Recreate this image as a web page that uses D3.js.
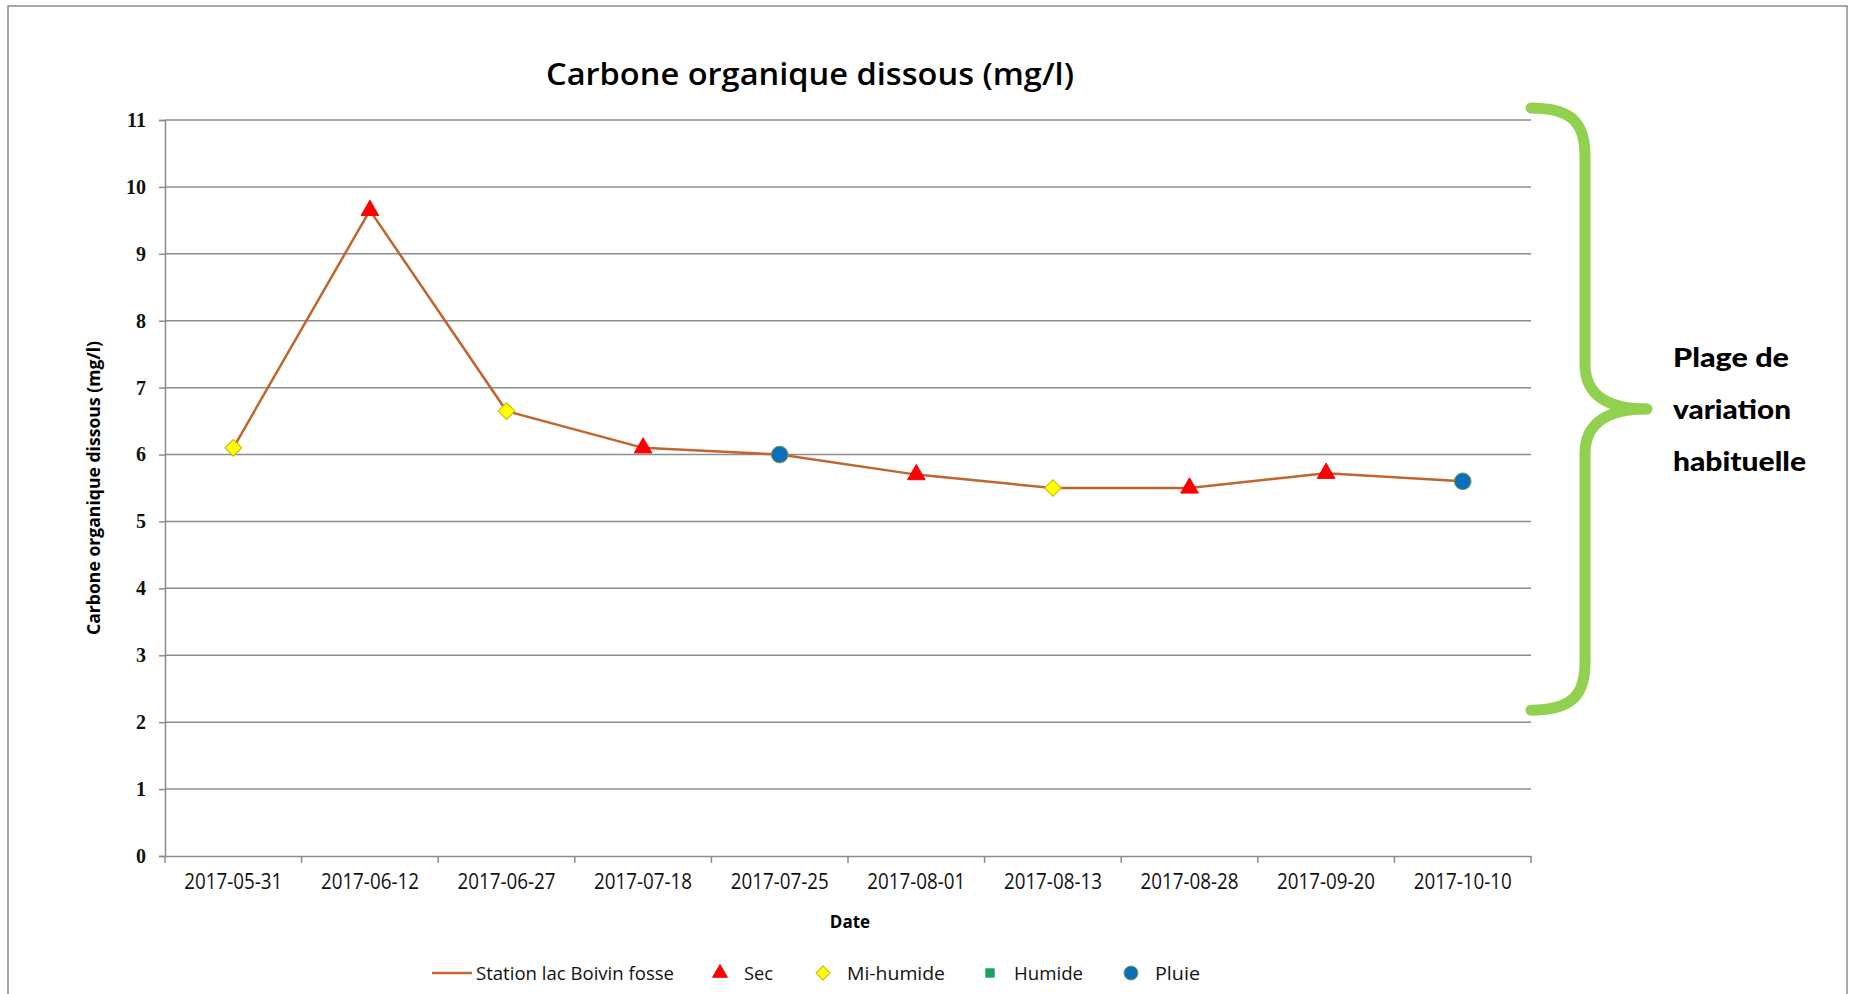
<!DOCTYPE html>
<html>
<head>
<meta charset="utf-8">
<script src="https://cdn.jsdelivr.net/npm/d3@7"></script>
<style>
  body { margin: 0; background: #fff; }
  svg { display: block; }
</style>
</head>
<body>
<div id="chart"></div>
<script>
const dates = ["2017-05-31", "2017-06-12", "2017-06-27", "2017-07-18", "2017-07-25",
  "2017-08-01", "2017-08-13", "2017-08-28", "2017-09-20", "2017-10-10"];
const values = [6.1, 9.65, 6.65, 6.1, 6.0, 5.7, 5.5, 5.5, 5.72, 5.6];
const conditions = ["Mi-humide", "Sec", "Mi-humide", "Sec", "Pluie",
  "Sec", "Mi-humide", "Sec", "Sec", "Pluie"];
const yTicks = [0, 1, 2, 3, 4, 5, 6, 7, 8, 9, 10, 11];
const legendLabels = ["Station lac Boivin fosse", "Sec", "Mi-humide", "Humide", "Pluie"];
const braceRange = [2.18, 11.18];
const braceText = ["Plage de", "variation", "habituelle"];

const W = 1851, H = 994;
const plot = { left: 165, right: 1531, top: 120, bottom: 856 };
const lineColor = "#c0652b";
const gridColor = "#8c8c8c";

const markerStyle = {
  "Sec": { type: d3.symbolTriangle, size: 135, fill: "#ff0000", stroke: "#ff0000", rot: 0 },
  "Mi-humide": { type: d3.symbolSquare, size: 140, fill: "#ffff00", stroke: "#c8b400", rot: 45 },
  "Humide": { type: d3.symbolSquare, size: 100, fill: "#1aa260", stroke: "#1aa260", rot: 0 },
  "Pluie": { type: d3.symbolCircle, size: 220, fill: "#0a6fbf", stroke: "#8a9a30", rot: 0 }
};

const svg = d3.select("#chart").append("svg")
  .attr("width", W).attr("height", H);

// frame
svg.append("rect")
  .attr("x", 8).attr("y", 6).attr("width", 1839).attr("height", 1000)
  .attr("fill", "#fff").attr("stroke", "#8a8a8a").attr("stroke-width", 1.5);

const x = d3.scaleBand().domain(dates).range([plot.left, plot.right]);
const y = d3.scaleLinear().domain([0, 11]).range([plot.bottom, plot.top]);

// gridlines + y axis
const yAxis = svg.append("g")
  .attr("transform", `translate(${plot.left},0)`)
  .call(d3.axisLeft(y).tickValues(yTicks).tickSize(6).tickPadding(13));
yAxis.select(".domain").attr("stroke", gridColor).attr("stroke-width", 1.5);
yAxis.selectAll(".tick line").attr("stroke", gridColor).attr("stroke-width", 1.5);
yAxis.selectAll(".tick text")
  .attr("fill", "#111")
  .style("font-family", "'Liberation Serif', serif")
  .style("font-weight", "bold")
  .style("font-size", "20px");

svg.append("g")
  .selectAll("line")
  .data(yTicks.filter(d => d > 0))
  .join("line")
  .attr("x1", plot.left).attr("x2", plot.right)
  .attr("y1", d => y(d)).attr("y2", d => y(d))
  .attr("stroke", gridColor).attr("stroke-width", 1.5);

// x axis
const xAxis = svg.append("g")
  .attr("transform", `translate(0,${plot.bottom})`)
  .call(d3.axisBottom(x).tickSize(0).tickPadding(18));
xAxis.select(".domain").attr("stroke", gridColor).attr("stroke-width", 1.5);
xAxis.selectAll(".tick text")
  .attr("fill", "#111")
  .style("font-family", "'Liberation Sans Narrow', 'Open Sans', sans-serif")
  .style("font-size", "21px")
  .attr("textLength", 98)
  .attr("lengthAdjust", "spacingAndGlyphs");

svg.append("g")
  .selectAll("line")
  .data(dates.concat(["end"]))
  .join("line")
  .attr("x1", (d, i) => i < dates.length ? x(d) : plot.right)
  .attr("x2", (d, i) => i < dates.length ? x(d) : plot.right)
  .attr("y1", plot.bottom).attr("y2", plot.bottom + 7)
  .attr("stroke", gridColor).attr("stroke-width", 1.5);

// title and axis titles
svg.append("text")
  .attr("x", 810).attr("y", 85)
  .attr("text-anchor", "middle")
  .attr("textLength", 528).attr("lengthAdjust", "spacingAndGlyphs")
  .style("font-family", "'Open Sans', sans-serif")
  .style("font-weight", "600")
  .style("font-size", "31px")
  .text("Carbone organique dissous (mg/l)");

svg.append("text")
  .attr("x", 850).attr("y", 928)
  .attr("text-anchor", "middle")
  .style("font-family", "'Open Sans', sans-serif")
  .style("font-weight", "bold")
  .style("font-size", "17px")
  .text("Date");

svg.append("text")
  .attr("transform", `translate(100,${(plot.top + plot.bottom) / 2}) rotate(-90)`)
  .attr("text-anchor", "middle")
  .attr("textLength", 294).attr("lengthAdjust", "spacingAndGlyphs")
  .style("font-family", "'Open Sans', sans-serif")
  .style("font-weight", "bold")
  .style("font-size", "17px")
  .text("Carbone organique dissous (mg/l)");

// line
const line = d3.line()
  .x(d => x(d.date) + x.bandwidth() / 2)
  .y(d => y(d.value));
const pts = dates.map((d, i) => ({ date: d, value: values[i], cond: conditions[i] }));

svg.append("path")
  .datum(pts)
  .attr("d", line)
  .attr("fill", "none")
  .attr("stroke", lineColor)
  .attr("stroke-width", 2.5);

svg.append("g")
  .selectAll("path")
  .data(pts)
  .join("path")
  .attr("d", d => d3.symbol().type(markerStyle[d.cond].type).size(markerStyle[d.cond].size)())
  .attr("transform", d => `translate(${x(d.date) + x.bandwidth() / 2},${y(d.value)}) rotate(${markerStyle[d.cond].rot})`)
  .attr("fill", d => markerStyle[d.cond].fill)
  .attr("stroke", d => markerStyle[d.cond].stroke)
  .attr("stroke-width", 1);

// legend
const legendX = [432, 720, 823, 990, 1131];
const legendW = [198, 29, 98, 69, 45];
const ly = 973;
const lg = svg.append("g");
lg.append("line")
  .attr("x1", legendX[0]).attr("x2", legendX[0] + 40)
  .attr("y1", ly).attr("y2", ly)
  .attr("stroke", lineColor).attr("stroke-width", 2.5);
legendLabels.slice(1).forEach((lab, i) => {
  const m = markerStyle[lab];
  lg.append("path")
    .attr("d", d3.symbol().type(m.type).size(m.size * 0.7)())
    .attr("transform", `translate(${legendX[i + 1]},${ly}) rotate(${m.rot})`)
    .attr("fill", m.fill).attr("stroke", m.stroke).attr("stroke-width", 1);
});
lg.selectAll("text")
  .data(legendLabels)
  .join("text")
  .attr("x", (d, i) => i === 0 ? legendX[0] + 44 : legendX[i] + 24)
  .attr("y", ly + 7)
  .attr("textLength", (d, i) => legendW[i])
  .attr("lengthAdjust", "spacingAndGlyphs")
  .style("font-family", "'Open Sans', sans-serif")
  .style("font-size", "19px")
  .attr("fill", "#111")
  .text(d => d);

// brace annotation
const bTop = y(braceRange[1]), bBot = y(braceRange[0]);
const bMid = (bTop + bBot) / 2;
const bx0 = plot.right, bx1 = 1585, bx2 = 1647;
const brace = d3.path();
brace.moveTo(bx0, bTop);
brace.bezierCurveTo(bx1 - 10, bTop, bx1, bTop + 18, bx1, bTop + 48);
brace.lineTo(bx1, bMid - 45);
brace.bezierCurveTo(bx1, bMid - 12, bx1 + 25, bMid, bx2, bMid);
brace.bezierCurveTo(bx1 + 25, bMid, bx1, bMid + 12, bx1, bMid + 45);
brace.lineTo(bx1, bBot - 48);
brace.bezierCurveTo(bx1, bBot - 18, bx1 - 10, bBot, bx0, bBot);
svg.append("path")
  .attr("d", brace.toString())
  .attr("fill", "none")
  .attr("stroke", "#92d050")
  .attr("stroke-width", 11)
  .attr("stroke-linecap", "round")
  .attr("stroke-linejoin", "round");

svg.append("g")
  .selectAll("text")
  .data(braceText)
  .join("text")
  .attr("x", 1673)
  .attr("y", (d, i) => 367 + i * 52)
  .attr("textLength", (d, i) => [116, 118, 133][i])
  .attr("lengthAdjust", "spacingAndGlyphs")
  .style("font-family", "Lato, sans-serif")
  .style("font-weight", "900")
  .style("font-size", "27px")
  .attr("fill", "#000")
  .text(d => d);
</script>
</body>
</html>
